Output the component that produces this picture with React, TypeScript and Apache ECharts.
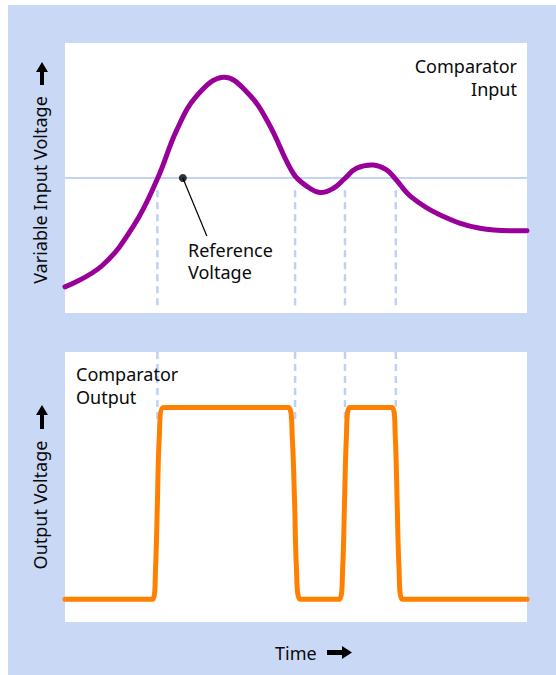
import React, { useEffect, useRef } from "react";
import * as echarts from "echarts";

// Comparator input (top panel): time (0-100) vs voltage (0-10)
const inputTime = [0, 8, 15, 20, 24.2, 28.5, 34.3, 39.5, 44, 49.4, 52.3, 55.2, 58.1, 60.6, 63.1, 66.7, 69.6, 71.4, 75, 81.2, 89.8, 100];
const inputVoltage = [0.97, 1.75, 3.27, 4.97, 6.78, 8.04, 8.73, 8.16, 7.05, 5.17, 4.7, 4.46, 4.62, 4.99, 5.36, 5.48, 5.3, 4.99, 4.29, 3.63, 3.14, 3.05];

// Reference voltage level
const referenceLevel = 5;
const referenceDot = [25.5, 5];
const referenceLeaderEnd = [30.7, 2.85];

// Times where input crosses the reference
const crossingTimes = [20.0, 49.8, 60.6, 71.6];

// Comparator output (bottom panel)
const LOW = 0.84;
const HIGH = 7.94;
const outputTime = [0, 19.0, 19.6, 20.0, 20.4, 21.3, 48.4, 49.2, 49.7, 50.1, 50.9, 59.4, 60.1, 60.5, 60.9, 61.6, 70.8, 71.5, 71.9, 72.3, 73.0, 100];
const outputVoltage = [LOW, LOW, 2.0, 4.4, 6.8, HIGH, HIGH, 6.8, 4.4, 2.0, LOW, LOW, 2.0, 4.4, 6.8, HIGH, HIGH, 6.8, 4.4, 2.0, LOW, LOW];

const FONT = '"Noto Sans", "Liberation Sans", Arial, sans-serif';
const TEXT_COLOR = "#0a0a0a";
const GUIDE_COLOR = "#c3d4f3";
const DASH_COLOR = "#bed1f3";

export default function App() {
  const ref = useRef<HTMLDivElement>(null);

  useEffect(() => {
    if (!ref.current) return;
    const chart = echarts.init(ref.current, undefined, { renderer: "svg" });

    const txt = (text: string, x: number, y: number, align: string, extra: any = {}, lineHeight = 22) => ({
      type: "text",
      x,
      y,
      ...extra,
      style: {
        text,
        fill: TEXT_COLOR,
        fontSize: 18,
        fontFamily: FONT,
        lineHeight,
        align,
        verticalAlign: "middle",
      },
      z: 100,
    });

    const series: any[] = [];
    series.push({
      type: "line",
      xAxisIndex: 0,
      yAxisIndex: 0,
      data: [[0, referenceLevel], [100, referenceLevel]],
      symbol: "none",
      lineStyle: { color: GUIDE_COLOR, width: 2 },
      z: 1,
      silent: true,
    });
    crossingTimes.forEach((t) => {
      series.push({
        type: "line",
        xAxisIndex: 0,
        yAxisIndex: 0,
        data: [[t, 4.55], [t, 0.1]],
        symbol: "none",
        lineStyle: { color: DASH_COLOR, width: 2.5, type: [7, 5] },
        z: 1,
      });
      series.push({
        type: "line",
        xAxisIndex: 1,
        yAxisIndex: 1,
        data: [[t, 10], [t, 7.4]],
        symbol: "none",
        lineStyle: { color: DASH_COLOR, width: 2.5, type: [7, 5] },
        z: 1,
      });
    });
    // Input voltage curve, drawn as a smooth polyline through the data mapped by the axes
    series.push({
      type: "custom",
      coordinateSystem: "cartesian2d",
      xAxisIndex: 0,
      yAxisIndex: 0,
      data: [[inputTime[0], inputVoltage[0]]],
      renderItem: (_params: any, api: any) => ({
        type: "polyline",
        shape: {
          points: inputTime.map((t, i) => api.coord([t, inputVoltage[i]])),
          smooth: 0.4,
        },
        style: { stroke: "#990099", lineWidth: 5, fill: "none", lineCap: "round", lineJoin: "round" },
      }),
      z: 5,
    });
    series.push({
      type: "line",
      xAxisIndex: 0,
      yAxisIndex: 0,
      data: [referenceDot, referenceLeaderEnd],
      symbol: "none",
      lineStyle: { color: "#000", width: 1.2 },
      z: 6,
    });
    series.push({
      type: "scatter",
      xAxisIndex: 0,
      yAxisIndex: 0,
      data: [referenceDot],
      symbolSize: 8,
      itemStyle: { color: "#000" },
      z: 7,
    });
    series.push({
      type: "line",
      xAxisIndex: 1,
      yAxisIndex: 1,
      data: outputTime.map((t, i) => [t, outputVoltage[i]]),
      smooth: 0.3,
      symbol: "none",
      clip: false,
      lineStyle: { color: "#ff8000", width: 5, cap: "round", join: "round" },
      z: 5,
    });

    chart.setOption({
      animation: false,
      grid: [
        { left: 65, top: 43, width: 462, height: 270, show: true, backgroundColor: "#ffffff", borderWidth: 0 },
        { left: 65, top: 352, width: 462, height: 270, show: true, backgroundColor: "#ffffff", borderWidth: 0 },
      ],
      xAxis: [
        { type: "value", gridIndex: 0, min: 0, max: 100, show: false },
        { type: "value", gridIndex: 1, min: 0, max: 100, show: false },
      ],
      yAxis: [
        { type: "value", gridIndex: 0, min: 0, max: 10, show: false },
        { type: "value", gridIndex: 1, min: 0, max: 10, show: false },
      ],
      series,
      graphic: [
        txt("Comparator\nInput", 517, 77.5, "right", {}, 23),
        txt("Reference\nVoltage", 188, 260.5, "left", {}, 22),
        txt("Comparator\nOutput", 76, 385.5, "left", {}, 23),
        txt("Time", 275, 653, "left"),
        txt("Variable Input Voltage", 40, 190, "center", { rotation: Math.PI / 2 }),
        txt("Output Voltage", 40, 505, "center", { rotation: Math.PI / 2 }),
        {
          type: "polygon",
          shape: { points: [[42, 62], [48, 72], [44, 72], [44, 85], [40, 85], [40, 72], [36, 72]] },
          style: { fill: "#000" },
          z: 100,
        },
        {
          type: "polygon",
          shape: { points: [[42, 405], [48, 415], [44, 415], [44, 429], [40, 429], [40, 415], [36, 415]] },
          style: { fill: "#000" },
          z: 100,
        },
        {
          type: "polygon",
          shape: { points: [[352, 652.5], [342, 646], [342, 650], [327, 650], [327, 655], [342, 655], [342, 659]] },
          style: { fill: "#000" },
          z: 100,
        },
      ],
    });

    return () => chart.dispose();
  }, []);

  return (
    <div style={{ position: "fixed", left: 0, top: 0, width: 556, height: 675, background: "#ffffff" }}>
      <div style={{ position: "absolute", left: 8, top: 5, width: 548, height: 670, background: "#c9d8f5" }} />
      <div ref={ref} style={{ position: "absolute", left: 0, top: 0, width: 556, height: 675 }} />
    </div>
  );
}
